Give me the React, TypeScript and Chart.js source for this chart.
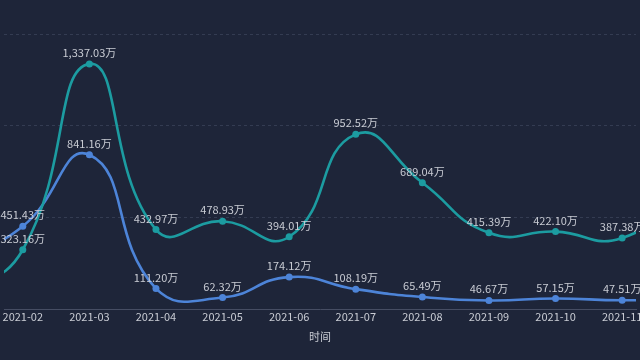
import React, { useEffect, useRef } from "react";
import { Chart, registerables } from "chart.js";

Chart.register(...registerables);

const months = [1, 2, 3, 4, 5, 6, 7, 8, 9, 10, 11, 12];
const monthLabels = ["2021-01", "2021-02", "2021-03", "2021-04", "2021-05", "2021-06", "2021-07", "2021-08", "2021-09", "2021-10", "2021-11", "2021-12"];
const tealValues = [70, 323.16, 1337.03, 432.97, 478.93, 394.01, 952.52, 689.04, 415.39, 422.1, 387.38, 660];
const blueValues = [265, 451.43, 841.16, 111.2, 62.32, 174.12, 108.19, 65.49, 46.67, 57.15, 47.51, 55];
const yTicks = [0, 500, 1000, 1500];
const xMin = 1.718;
const xMax = 11.208;

const BG = "#1e2539";
const TEAL = "#1c9ca1";
const BLUE = "#4d84d8";
const TEXT = "#c9ccd4";
const FONT = '"Noto Sans CJK SC", "Noto Sans", sans-serif';

const fmt = (v: number) =>
  v.toLocaleString("en-US", { minimumFractionDigits: 2, maximumFractionDigits: 2 }) + "万";

const labelPlugin = {
  id: "valueLabels",
  afterDatasetsDraw(chart: any) {
    const ctx = chart.ctx;
    ctx.save();
    ctx.font = `11px ${FONT}`;
    ctx.fillStyle = TEXT;
    ctx.textAlign = "center";
    ctx.textBaseline = "alphabetic";
    chart.data.datasets.forEach((ds: any, i: number) => {
      const meta = chart.getDatasetMeta(i);
      meta.data.forEach((el: any, j: number) => {
        const v = ds.data[j].y;
        ctx.fillText(fmt(v), el.x, el.y - 7);
      });
    });
    ctx.restore();
  },
};

export default function App() {
  const ref = useRef<HTMLCanvasElement>(null);
  useEffect(() => {
    if (!ref.current) return;
    const chart = new Chart(ref.current, {
      type: "line",
      data: {
        datasets: [
          {
            label: "A",
            data: months.map((m, i) => ({ x: m, y: tealValues[i] })),
            borderColor: TEAL,
            backgroundColor: TEAL,
            borderWidth: 2.6,
            pointRadius: 3.5,
            pointBackgroundColor: TEAL,
            pointBorderWidth: 0,
            tension: 0.5,
          },
          {
            label: "B",
            data: months.map((m, i) => ({ x: m, y: blueValues[i] })),
            borderColor: BLUE,
            backgroundColor: BLUE,
            borderWidth: 2.6,
            pointRadius: 3.5,
            pointBackgroundColor: BLUE,
            pointBorderWidth: 0,
            tension: 0.5,
          },
        ],
      },
      options: {
        animation: false,
        responsive: true,
        maintainAspectRatio: false,
        layout: { padding: { top: 34, left: 0, right: 0, bottom: 0 } },
        plugins: { legend: { display: false }, tooltip: { enabled: false } },
        scales: {
          x: {
            type: "linear",
            min: xMin,
            max: xMax,
            grid: { display: false, drawTicks: false },
            border: { display: true, color: "#464d63", width: 1 },
            afterBuildTicks: (scale: any) => {
              scale.ticks = months.slice(1, 11).map((m) => ({ value: m }));
            },
            ticks: {
              autoSkip: false,
              maxRotation: 0,
              padding: 1,
              color: TEXT,
              font: { family: FONT, size: 11 },
              callback: (v: any) => monthLabels[Math.round(v) - 1] ?? "",
            },
            title: {
              display: true,
              text: "时间",
              color: TEXT,
              font: { family: FONT, size: 11 },
              padding: { top: 0, bottom: 17 },
            },
            afterFit: (scale: any) => {
              scale.height = 51;
              scale.paddingLeft = 0;
              scale.paddingRight = 0;
            },
          },
          y: {
            min: 0,
            max: 1500,
            afterBuildTicks: (scale: any) => {
              scale.ticks = yTicks.map((v) => ({ value: v }));
            },
            ticks: { display: false },
            grid: { color: "rgba(120,130,160,0.25)", drawTicks: false },
            border: { display: false, dash: [3, 3] },
            afterFit: (scale: any) => {
              scale.width = 0;
              scale.paddingTop = 0;
              scale.paddingBottom = 0;
            },
          },
        },
      },
      plugins: [labelPlugin],
    });
    return () => chart.destroy();
  }, []);
  return (
    <div style={{ position: "fixed", left: 0, top: 0, width: 640, height: 360, background: BG }}>
      <canvas ref={ref} style={{ display: "block", width: "100%", height: "100%" }} />
    </div>
  );
}
